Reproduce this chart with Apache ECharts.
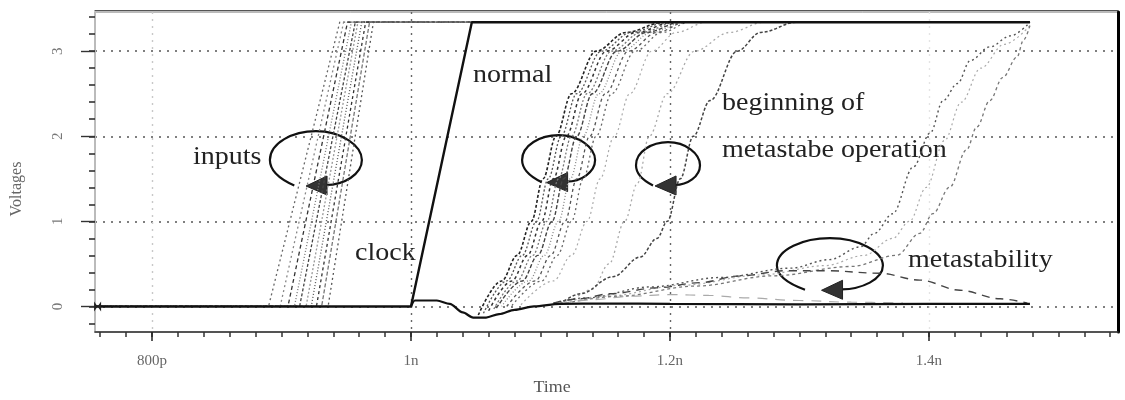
<!DOCTYPE html>
<html>
<head>
<meta charset="utf-8">
<script src="https://cdn.jsdelivr.net/npm/echarts@6/dist/echarts.min.js"></script>
<style>
  html, body { margin: 0; padding: 0; background: #fff; }
  #chart { width: 1125px; height: 400px; }
</style>
</head>
<body>
<div id="chart"></div>
<script>
// ---- Data: time in ps, voltage in V ----
const timeTicks = [800, 1000, 1200, 1400];
const timeTickLabels = ['800p', '1n', '1.2n', '1.4n'];
const voltTicks = [0, 1, 2, 3];
const voltTickLabels = ['0', '1', '2', '3'];

// clock edge
const clockTime = [756, 1000, 1047, 1478];
const clockVolt = [0, 0, 3.34, 3.34];

// shared low level of the flip-flop outputs (with the clock feed-through dip)
const outLowTime = [1000, 1003, 1020, 1030, 1040, 1048, 1058, 1068, 1080, 1095, 1115, 1150, 1200, 1300, 1400, 1478];
const outLowVolt = [0.0, 0.07, 0.07, 0.03, -0.07, -0.13, -0.13, -0.09, -0.04, 0.0, 0.03, 0.035, 0.03, 0.025, 0.03, 0.03];

// data input ramps (0 -> high level)
const inputRiseStart = [890, 899, 905, 910, 914, 919, 923, 927, 931, 936];
const inputRiseEnd   = [945, 948, 951, 954, 957, 959, 962, 965, 968, 971];
const inputHigh = 3.34;

// outputs resolving normally
const normalTraces = [
  [[1052,-0.1],[1070,0.3],[1082,0.6],[1093,1.0],[1102,1.5],[1112,2.0],[1124,2.5],[1143,3.0],[1166,3.22],[1195,3.34],[1478,3.34]],
  [[1056,-0.08],[1074,0.3],[1086,0.6],[1097,1.0],[1106,1.5],[1116,2.0],[1128,2.5],[1147,3.0],[1170,3.22],[1198,3.34],[1478,3.34]],
  [[1060,-0.05],[1078,0.3],[1090,0.6],[1101,1.0],[1110,1.5],[1120,2.0],[1132,2.5],[1151,3.0],[1174,3.22],[1202,3.34],[1478,3.34]],
  [[1064,-0.03],[1082,0.3],[1094,0.6],[1105,1.0],[1114,1.5],[1124,2.0],[1136,2.5],[1155,3.0],[1178,3.22],[1205,3.34],[1478,3.34]],
  [[1066,-0.02],[1086,0.3],[1098,0.6],[1109,1.0],[1118,1.5],[1128,2.0],[1140,2.5],[1159,3.0],[1182,3.22],[1208,3.34],[1478,3.34]],
  [[1070,0.0],[1091,0.3],[1103,0.6],[1114,1.0],[1123,1.5],[1133,2.0],[1145,2.5],[1163,3.0],[1186,3.22],[1210,3.34],[1478,3.34]],
  [[1074,0.0],[1096,0.3],[1108,0.6],[1119,1.0],[1128,1.5],[1138,2.0],[1150,2.5],[1168,3.0],[1190,3.22],[1212,3.34],[1478,3.34]],
  [[1078,0.01],[1101,0.3],[1113,0.6],[1124,1.0],[1133,1.5],[1143,2.0],[1155,2.5],[1173,3.0],[1194,3.22],[1215,3.34],[1478,3.34]],
  [[1085,0.02],[1110,0.3],[1124,0.6],[1136,1.0],[1146,1.5],[1157,2.0],[1169,2.5],[1186,3.0],[1205,3.22],[1228,3.34],[1478,3.34]]
];

// outputs at the beginning of metastable operation
const lateTraces = [
  [[1123,0.05],[1140,0.2],[1153,0.5],[1165,1.0],[1175,1.45],[1184,2.0],[1198,2.5],[1219,3.0],[1246,3.22],[1273,3.34],[1478,3.34]],
  [[1115,0.03],[1131,0.15],[1156,0.35],[1177,0.58],[1190,0.8],[1198,1.0],[1208,1.5],[1218,2.0],[1231,2.42],[1252,3.0],[1270,3.22],[1298,3.34],[1478,3.34]]
];

// metastable outputs: late resolution to high or back to low
const metaTraces = [
  [[1110,0.04],[1135,0.1],[1185,0.23],[1239,0.34],[1293,0.45],[1323,0.55],[1347,0.7],[1358,0.86],[1372,1.09],[1388,1.64],[1401,2.04],[1411,2.42],[1422,2.62],[1432,2.89],[1447,3.05],[1463,3.18],[1478,3.34]],
  [[1115,0.04],[1150,0.12],[1210,0.25],[1270,0.37],[1320,0.48],[1350,0.6],[1372,0.8],[1385,1.0],[1398,1.4],[1412,1.95],[1425,2.4],[1440,2.8],[1458,3.08],[1478,3.3]],
  [[1120,0.04],[1160,0.12],[1220,0.24],[1280,0.36],[1340,0.47],[1375,0.6],[1393,0.86],[1403,1.09],[1416,1.4],[1429,1.84],[1437,2.11],[1447,2.42],[1457,2.69],[1468,2.93],[1473,3.13],[1478,3.3]],
  [[1110,0.04],[1130,0.09],[1154,0.15],[1190,0.22],[1223,0.28],[1254,0.36],[1290,0.42],[1321,0.42],[1362,0.39],[1393,0.31],[1424,0.19],[1455,0.09],[1476,0.04]],
  [[1115,0.03],[1140,0.08],[1170,0.12],[1200,0.14],[1230,0.13],[1260,0.1],[1300,0.07],[1340,0.05],[1380,0.04]]
];

// circular arrows marking the trace groups (centres in data units)
const loopCenters = [[926.6, 1.72], [1114, 1.72], [1198.5, 1.66], [1323.5, 0.48]];

// annotation texts
const notes = ['inputs', 'normal', 'clock', 'beginning of', 'metastabe operation', 'metastability'];

// ---- Rendering ----
const loopSize = [[92, 58], [73, 50], [64, 46], [106, 55]];
// left edge and top of the lettering for each note
const notePos = [[193, 146], [473, 64], [355, 242], [722, 92], [722, 139], [908, 249]];

const Y_MIN = -0.3, Y_MAX = 3.46, X_MIN = 756, X_MAX = 1546;

const minorTimeTicks = [];
for (let t = 760; t <= 1540; t += 20) minorTimeTicks.push(t);
const minorVoltTicks = [];
for (let k = -1; k <= 17; k++) minorVoltTicks.push(+(k * 0.2).toFixed(1));

const series = [];

const inputStyles = [
  { c: '#666', d: [2, 3] }, { c: '#888', d: [2, 3] }, { c: '#333', d: [4, 3] },
  { c: '#777', d: [1, 2] }, { c: '#444', d: [3, 2] }, { c: '#999', d: [2, 2] },
  { c: '#555', d: [1, 2] }, { c: '#333', d: [3, 3] }, { c: '#777', d: [4, 2] },
  { c: '#555', d: [2, 3] }
];
inputRiseStart.forEach((s, i) => {
  series.push({
    type: 'line', xAxisIndex: 0, yAxisIndex: 0, showSymbol: false, silent: true,
    data: [[X_MIN, 0], [s, 0], [inputRiseEnd[i], inputHigh], [clockTime[3], inputHigh]],
    lineStyle: { color: inputStyles[i].c, width: 1.3, type: inputStyles[i].d }
  });
});

const normalStyles = [
  { c: '#222', d: [3, 2], w: 1.6 }, { c: '#555', d: [2, 2], w: 1.3 }, { c: '#333', d: [3, 3], w: 1.5 },
  { c: '#777', d: [2, 2], w: 1.3 }, { c: '#444', d: [4, 2], w: 1.4 }, { c: '#888', d: [1, 2], w: 1.3 },
  { c: '#555', d: [3, 3], w: 1.3 }, { c: '#666', d: [2, 3], w: 1.3 }, { c: '#aaa', d: [2, 3], w: 1.2 }
];
normalTraces.forEach((tr, i) => {
  series.push({
    type: 'line', xAxisIndex: 0, yAxisIndex: 0, showSymbol: false, silent: true,
    smooth: 0.35, smoothMonotone: 'x', data: tr,
    lineStyle: { color: normalStyles[i].c, width: normalStyles[i].w, type: normalStyles[i].d }
  });
});

const lateStyles = [{ c: '#aaa', d: [2, 3], w: 1.3 }, { c: '#444', d: [3, 2], w: 1.5 }];
lateTraces.forEach((tr, i) => {
  series.push({
    type: 'line', xAxisIndex: 0, yAxisIndex: 0, showSymbol: false, silent: true,
    smooth: 0.35, smoothMonotone: 'x', data: tr,
    lineStyle: { color: lateStyles[i].c, width: lateStyles[i].w, type: lateStyles[i].d }
  });
});

const metaStyles = [
  { c: '#555', d: [2, 3], w: 1.4 }, { c: '#aaa', d: [2, 3], w: 1.2 }, { c: '#777', d: [3, 3], w: 1.3 },
  { c: '#444', d: [8, 6], w: 1.4 }, { c: '#aaa', d: [10, 8], w: 1.2 }
];
metaTraces.forEach((tr, i) => {
  series.push({
    type: 'line', xAxisIndex: 0, yAxisIndex: 0, showSymbol: false, silent: true,
    smooth: 0.35, smoothMonotone: 'x', data: tr,
    lineStyle: { color: metaStyles[i].c, width: metaStyles[i].w, type: metaStyles[i].d }
  });
});

series.push({
  type: 'line', xAxisIndex: 0, yAxisIndex: 0, showSymbol: false, silent: true,
  smooth: 0.3, smoothMonotone: 'x',
  data: outLowTime.map((t, i) => [t, outLowVolt[i]]),
  lineStyle: { color: '#111', width: 2.2 }
});

series.push({
  type: 'line', xAxisIndex: 0, yAxisIndex: 0, silent: true,
  data: clockTime.map((t, i) => [t, clockVolt[i]]),
  showSymbol: false,
  lineStyle: { color: '#111', width: 2.4 },
  markPoint: {
    silent: true,
    symbol: 'path://M0,0L10,10L10,0L0,10Z', symbolSize: [7, 10],
    itemStyle: { color: '#222' }, label: { show: false },
    data: [{ coord: [clockTime[0] + 2, clockVolt[0]] }]
  }
});

series.push({
  type: 'custom', xAxisIndex: 0, yAxisIndex: 0, silent: true,
  data: loopCenters,
  renderItem: function (params, api) {
    const c = api.coord([api.value(0), api.value(1)]);
    const a = loopSize[params.dataIndex][0] / 2;
    const b = loopSize[params.dataIndex][1] / 2;
    const cx = c[0], cy = c[1];
    const f = (v) => v.toFixed(1);
    const sx = cx - 0.47 * a, sy = cy + 0.88 * b;
    const ex = cx + 0.22 * a, ey = cy + 0.86 * b;
    const d = 'M' + f(sx) + ',' + f(sy) +
      ' C' + f(cx - 0.8 * a) + ',' + f(cy + 0.65 * b) + ' ' + f(cx - a) + ',' + f(cy + 0.35 * b) + ' ' + f(cx - a) + ',' + f(cy) +
      ' C' + f(cx - a) + ',' + f(cy - 0.6 * b) + ' ' + f(cx - 0.5 * a) + ',' + f(cy - b) + ' ' + f(cx) + ',' + f(cy - b) +
      ' C' + f(cx + 0.55 * a) + ',' + f(cy - b) + ' ' + f(cx + a) + ',' + f(cy - 0.5 * b) + ' ' + f(cx + a) + ',' + f(cy) +
      ' C' + f(cx + a) + ',' + f(cy + 0.5 * b) + ' ' + f(cx + 0.6 * a) + ',' + f(cy + 0.86 * b) + ' ' + f(ex) + ',' + f(ey);
    const tipX = ex - 20, tipY = ey + 1;
    return {
      type: 'group',
      children: [
        { type: 'path', shape: { pathData: d }, style: { fill: null, stroke: '#111', lineWidth: 2.2 } },
        { type: 'polygon', shape: { points: [[tipX, tipY], [ex + 1, ey - 9], [ex + 1, ey + 10]] }, style: { fill: '#333', stroke: '#222', lineWidth: 1 } }
      ]
    };
  }
});

const graphic = notes.map((txt, i) => ({
  type: 'text', x: notePos[i][0], y: notePos[i][1] - 1, scaleX: 1.12, originX: 0, originY: 0,
  silent: true,
  style: { text: txt, font: '25px "Liberation Serif", serif', fill: '#222', verticalAlign: 'top' }
}));
graphic.push({
  type: 'text', x: 17, y: 189, rotation: Math.PI / 2, silent: true,
  style: { text: 'Voltages', font: '16px "Liberation Serif", serif', fill: '#666', align: 'center', verticalAlign: 'middle' }
});
graphic.push({
  type: 'text', x: 552, y: 388, scaleX: 1.12, silent: true,
  style: { text: 'Time', font: '16px "Liberation Serif", serif', fill: '#555', align: 'center', verticalAlign: 'middle' }
});

const option = {
  animation: false,
  backgroundColor: '#fff',
  grid: { left: 95, right: 7, top: 12, bottom: 68, show: true, borderColor: '#777', borderWidth: 1, backgroundColor: '#fff' },
  xAxis: [
    {
      type: 'value', position: 'bottom', min: X_MIN, max: X_MAX,
      axisLine: { show: true, onZero: false, lineStyle: { color: '#333', width: 1.5 } },
      axisTick: { show: true, customValues: minorTimeTicks, length: 5, lineStyle: { color: '#333', width: 1.5 } },
      axisLabel: { show: false }, splitLine: { show: false }
    },
    {
      type: 'value', position: 'bottom', min: X_MIN, max: X_MAX,
      axisLine: { show: false, onZero: false },
      axisTick: { show: true, customValues: timeTicks, length: 9, lineStyle: { color: '#222', width: 1.5 } },
      axisLabel: {
        show: true, customValues: timeTicks, margin: 22,
        formatter: (v) => timeTickLabels[timeTicks.indexOf(v)],
        fontFamily: '"Liberation Serif", serif', fontSize: 15, color: '#666'
      },
      splitLine: { show: true, lineStyle: { color: ['#c8c8c8', '#666', '#666', '#e4e4e4'], width: 1.4, type: [2, 5] } }
    },
    {
      type: 'value', position: 'top', min: X_MIN, max: X_MAX,
      axisLine: { show: true, onZero: false, lineStyle: { color: '#555', width: 1.2 } },
      axisTick: { show: false }, axisLabel: { show: false }, splitLine: { show: false }, offset: 2
    }
  ],
  yAxis: [
    {
      type: 'value', position: 'left', min: Y_MIN, max: Y_MAX,
      axisLine: { show: true, onZero: false, lineStyle: { color: '#bbb', width: 2 } },
      axisTick: { show: true, customValues: minorVoltTicks, length: 6, lineStyle: { color: '#333', width: 1.6 } },
      axisLabel: { show: false }, splitLine: { show: false }
    },
    {
      type: 'value', position: 'left', min: Y_MIN, max: Y_MAX,
      axisLine: { show: false, onZero: false },
      axisTick: { show: true, customValues: voltTicks, length: 14, lineStyle: { color: '#333', width: 1.4 } },
      axisLabel: {
        show: true, customValues: voltTicks, rotate: 90, margin: 29,
        formatter: (v) => voltTickLabels[voltTicks.indexOf(v)],
        fontFamily: '"Liberation Serif", serif', fontSize: 15, color: '#777'
      },
      splitLine: { show: true, lineStyle: { color: '#555', width: 1.6, type: [2, 6] } }
    },
    {
      type: 'value', position: 'right', min: Y_MIN, max: Y_MAX,
      axisLine: { show: true, onZero: false, lineStyle: { color: '#000', width: 3 } },
      axisTick: { show: false }, axisLabel: { show: false }, splitLine: { show: false }
    }
  ],
  graphic: graphic,
  series: series
};

const chart = echarts.init(document.getElementById('chart'), null, { renderer: 'canvas' });
chart.setOption(option);
</script>
</body>
</html>
